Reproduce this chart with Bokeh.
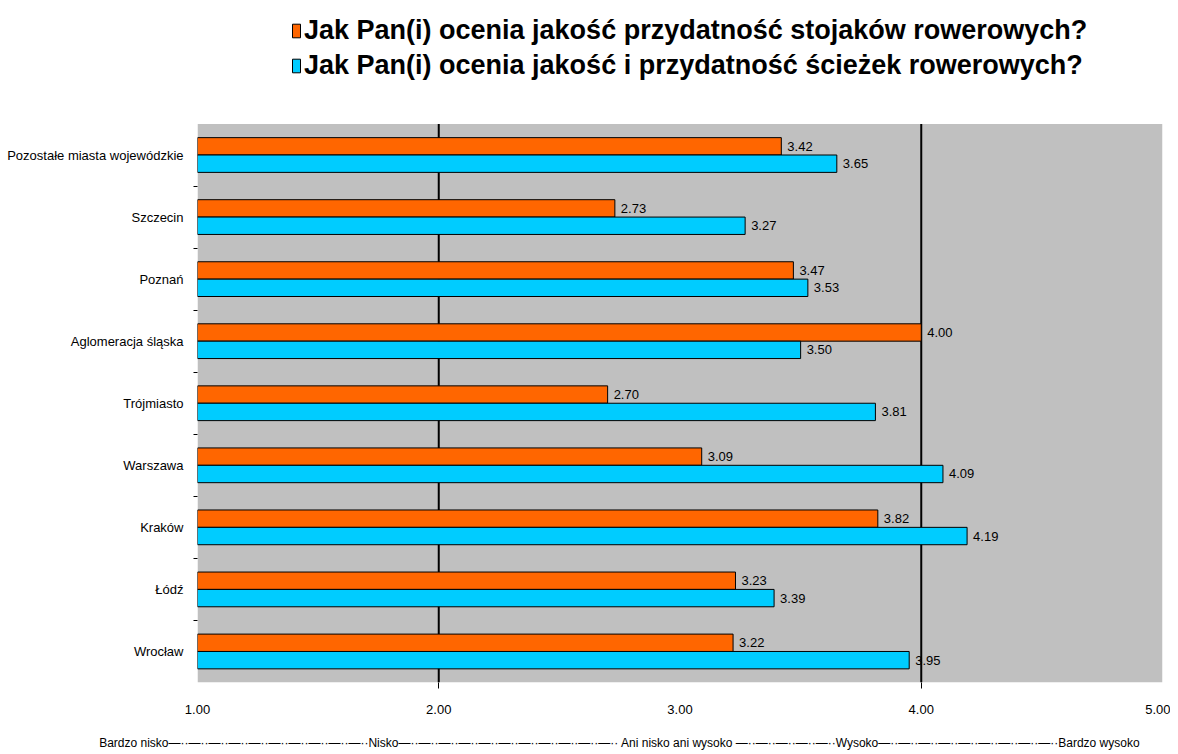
from bokeh.plotting import figure
from bokeh.models import (FixedTicker, Range1d, Legend, LegendItem, LinearAxis,
                          ColumnDataSource, BoxAnnotation)
from bokeh.transform import dodge
from bokeh.core.properties import value
from bokeh.embed import file_html
from bokeh.resources import INLINE

categories = ["Pozostałe miasta wojewódzkie", "Szczecin", "Poznań", "Aglomeracja śląska",
              "Trójmiasto", "Warszawa", "Kraków", "Łódź", "Wrocław"]
stojaki = [3.42, 2.73, 3.47, 4.00, 2.70, 3.09, 3.82, 3.23, 3.22]
sciezki = [3.65, 3.27, 3.53, 3.50, 3.81, 4.09, 4.19, 3.39, 3.95]
series_names = ["Jak Pan(i) ocenia jakość przydatność stojaków rowerowych?",
                "Jak Pan(i) ocenia jakość i przydatność ścieżek rowerowych?"]
x_ticks = [1, 2, 3, 4, 5]
x_tick_labels = ["1.00", "2.00", "3.00", "4.00", "5.00"]
grid_values = [2, 4]
scale_text = ("Bardzo nisko" + "—··" * 10 + "Nisko" + "—··" * 11 + " Ani nisko ani wysoko "
              + "—··" * 5 + "Wysoko" + "—··" * 9 + "Bardzo wysoko")

ORANGE = "#FF6600"
BLUE = "#00CCFF"
GRAY = "#C0C0C0"
FONT = "Liberation Sans"

# layout (pixels)
W, H = 1170, 752
FRAME_TOP, AREA_TOP, AREA_BOTTOM = 8, 124, 685

n = len(categories)
ys = [n - i - 0.5 for i in range(n)]
src = ColumnDataSource(dict(
    y=ys, a=stojaki, b=sciezki,
    la=[f"{v:.2f}" for v in stojaki], lb=[f"{v:.2f}" for v in sciezki],
))

y_top = n * (AREA_BOTTOM - FRAME_TOP) / (AREA_BOTTOM - AREA_TOP)
p = figure(width=W, height=H, x_range=Range1d(1, 5), y_range=Range1d(0, y_top),
           output_backend="svg", toolbar_location=None,
           min_border_left=197, min_border_right=8, min_border_top=FRAME_TOP,
           min_border_bottom=H - AREA_BOTTOM,
           x_axis_location=None, y_axis_location=None)
p.background_fill_color = "white"
p.border_fill_color = "white"
p.outline_line_color = None
p.xgrid.grid_line_color = None
p.ygrid.grid_line_color = None

# plot area background
p.add_layout(BoxAnnotation(left=1, right=5, bottom=0, top=n, fill_color=GRAY,
                           fill_alpha=1, line_color=None, level="underlay"))
# vertical grid lines at 2 and 4 (within the plot area), behind the bars
p.segment(x0=grid_values, x1=grid_values, y0=[0] * len(grid_values),
          y1=[n] * len(grid_values), line_color="black", line_width=2)

bh = 0.28
r1 = p.hbar(y=dodge("y", bh / 2, range=p.y_range), left=1, right="a", height=bh,
            source=src, fill_color=ORANGE, line_color="black", line_width=1)
r2 = p.hbar(y=dodge("y", -bh / 2, range=p.y_range), left=1, right="b", height=bh,
            source=src, fill_color=BLUE, line_color="black", line_width=1)

for col, lab, off in (("a", "la", bh / 2), ("b", "lb", -bh / 2)):
    p.text(x=col, y=dodge("y", off, range=p.y_range), text=lab, source=src,
           x_offset=6, text_baseline="middle", text_align="left",
           text_font=value(FONT), text_font_size="13px", text_color="black")

# y axis
yax = LinearAxis(ticker=FixedTicker(ticks=ys, minor_ticks=[float(k) for k in range(1, n)]))
yax.major_label_overrides = {y: c for y, c in zip(ys, categories)}
yax.axis_line_color = None
yax.major_tick_out = 0
yax.major_tick_in = 0
yax.minor_tick_out = 4
yax.minor_tick_in = 0
yax.minor_tick_line_color = "black"
yax.major_label_standoff = 10
yax.major_label_text_font = FONT
yax.major_label_text_font_size = "13px"
yax.major_label_text_color = "black"
p.add_layout(yax, "left")

# x axis
xax = LinearAxis(ticker=FixedTicker(ticks=x_ticks, minor_ticks=grid_values))
xax.major_label_overrides = {t: l for t, l in zip(x_ticks, x_tick_labels)}
xax.axis_line_color = None
xax.major_tick_out = 0
xax.major_tick_in = 0
xax.minor_tick_out = 6
xax.minor_tick_in = 0
xax.minor_tick_line_color = "black"
xax.major_label_standoff = 16
xax.major_label_text_font = FONT
xax.major_label_text_font_size = "13px"
xax.major_label_text_color = "black"
p.add_layout(xax, "below")

# scale description axis
sax = LinearAxis(ticker=FixedTicker(ticks=[2.75], minor_ticks=[]))
sax.major_label_overrides = {2.75: scale_text}
sax.axis_line_color = None
sax.major_tick_out = 0
sax.major_tick_in = 0
sax.major_label_standoff = 19
sax.major_label_text_font = FONT
sax.major_label_text_font_size = "12px"
sax.major_label_text_color = "black"
p.add_layout(sax, "below")

legend = Legend(items=[LegendItem(label=series_names[0], renderers=[r1]),
                       LegendItem(label=series_names[1], renderers=[r2])],
                location=(94, 601), orientation="vertical")
legend.border_line_color = None
legend.background_fill_alpha = 0
legend.label_text_font = FONT
legend.label_text_font_size = "27px"
legend.label_text_font_style = "bold"
legend.label_text_color = "black"
legend.glyph_width = 10
legend.glyph_height = 17
legend.label_standoff = 3
legend.spacing = 4
legend.padding = 0
legend.margin = 0
p.add_layout(legend, "center")

open("out.html", "w").write(file_html(p, INLINE))
